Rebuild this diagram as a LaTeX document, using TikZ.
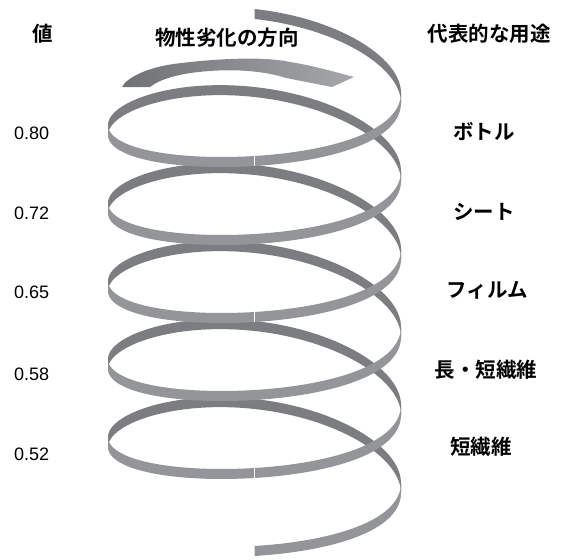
\documentclass[tikz,border=0pt]{standalone}
\usepackage{fontspec}
\setmainfont{Liberation Sans}
\newfontfamily\jpfont{Noto Sans CJK JP}[BoldFont={Noto Sans CJK JP Bold}]

\definecolor{ribbonfront}{RGB}{148,149,152}
\definecolor{ribbonback}{RGB}{124,125,129}
\definecolor{arrowdark}{RGB}{112,113,117}
\definecolor{arrowlight}{RGB}{166,167,170}

% top edge of the helical ribbon, angle in degrees (pitch 78 per turn)
\newcommand\hx[1]{254.5+146.5*cos(#1)}
\newcommand\hy[1]{86+0.2166667*(#1)+54*sin(#1)+3.5*cos(#1)+3.5*cos(2*(#1))}
% one piece of the ribbon between two angles, 10 units high
\newcommand\helixband[3]{%
  \fill[#1] plot[domain=#2:#3,samples=90,variable=\t] ({\hx{\t}},{\hy{\t}})
    -- plot[domain=#3:#2,samples=90,variable=\t] ({\hx{\t}},{\hy{\t}+10}) -- cycle;}

\begin{document}
\begin{tikzpicture}[x=1pt,y=-1pt,
  jp/.style={font=\jpfont\bfseries\fontsize{20.5}{24}\selectfont, inner sep=0pt},
  num/.style={font=\fontsize{18}{21}\selectfont, inner sep=0pt, anchor=west}]
\useasboundingbox (0,0) rectangle (563,560);

% rear halves of the turns (inner side, darker)
\helixband{ribbonback}{-90}{0}
\foreach \k [evaluate=\k as \a using 180+360*\k,
             evaluate=\k as \b using 360+360*\k] in {0,...,4}
  {\helixband{ribbonback}{\a}{\b}}

% front halves of the turns (outer side, lighter)
\foreach \k [evaluate=\k as \a using 360*\k,
             evaluate=\k as \b using 180+360*\k] in {0,...,4}
  {\helixband{ribbonfront}{\a}{\b}}
\helixband{ribbonfront}{1800}{1890}

% thin joints in the front arcs
\foreach \t in {90,810,1530}
  \draw[white, line width=0.6pt] ({\hx{\t}},{\hy{\t}}) -- ++(0,10);

% curved arrow: direction of degradation
\shade[left color=arrowdark, right color=arrowlight]
  (122,87) .. controls (127,77) and (150,66) .. (182,63)
  .. controls (215,59) and (262,56) .. (290,62)
  .. controls (316,66) and (338,73) .. (354,77)
  -- (332,87) -- (286,78)
  .. controls (265,71) and (235,69) .. (210,71)
  .. controls (180,73) and (160,79) .. (150,87) -- cycle;

% headings
\node[jp] (valhead) at (43,34) {値};
\node[jp] (dirhead) at (227,38) {物性劣化の方向};
\node[jp] (usehead) at (489,34) {代表的な用途};

% values
\node[num] (v1) at (14,133) {0.80};
\node[num] (v2) at (14,213) {0.72};
\node[num] (v3) at (14,292) {0.65};
\node[num] (v4) at (14,374) {0.58};
\node[num] (v5) at (14,454) {0.52};

% typical uses
\node[jp] (u1) at (484,132) {ボトル};
\node[jp] (u2) at (484,212) {シート};
\node[jp] (u3) at (487,290) {フィルム};
\node[jp] (u4) at (486,370) {長・短繊維};
\node[jp] (u5) at (481,447) {短繊維};
\end{tikzpicture}
\end{document}
